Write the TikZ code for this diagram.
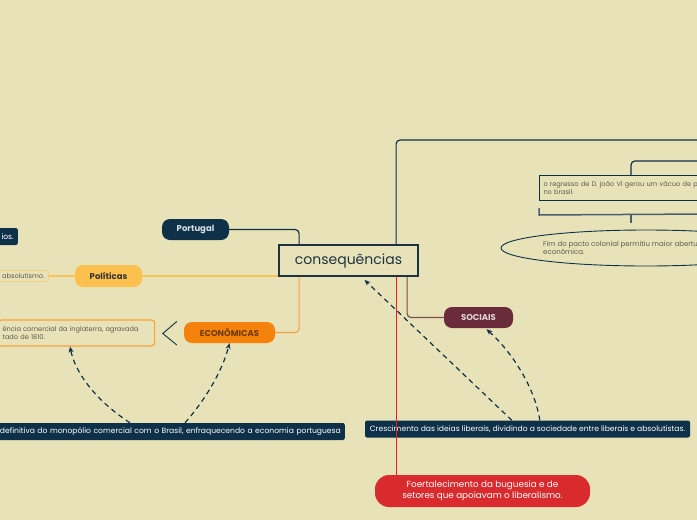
\documentclass[tikz,border=0pt]{standalone}
\usepackage{fontspec}
\setmainfont{Poppins}
\usetikzlibrary{positioning, calc, shapes.geometric, arrows.meta}

\definecolor{bg}{HTML}{E8E2B8}
\definecolor{navy}{HTML}{0E3149}
\definecolor{conborder}{HTML}{1C3442}
\definecolor{yellowfill}{HTML}{FCC04F}
\definecolor{yellowline}{HTML}{FCC458}
\definecolor{orangefill}{HTML}{F5820B}
\definecolor{orangeline}{HTML}{F7A33A}
\definecolor{maroonfill}{HTML}{6A2B3B}
\definecolor{maroonline}{HTML}{7D4E4E}
\definecolor{redfill}{HTML}{D92B2E}
\definecolor{redline}{HTML}{E8201F}
\definecolor{graytext}{HTML}{5E5A4E}
\definecolor{slate}{HTML}{4A6070}

\begin{document}
\begin{tikzpicture}[
    x=1pt, y=-1pt,
    pill/.style={
        rectangle,
        rounded corners=8pt,
        minimum height=21pt,
        inner sep=0pt,
        font=\fontsize{8.5}{10}\selectfont\bfseries
    },
    darkbox/.style={
        rectangle,
        rounded corners=2pt,
        fill=navy,
        text=white,
        inner xsep=4pt,
        inner ysep=0pt,
        minimum height=17pt,
        font=\fontsize{7.6}{9}\selectfont
    },
    note/.style={
        font=\fontsize{6.6}{8}\selectfont,
        text=graytext,
        align=left,
        inner xsep=4pt,
        inner ysep=3pt
    },
    link/.style={
        line width=1.2pt,
        rounded corners=4pt
    },
    dasharrow/.style={
        -{Stealth[length=6pt, width=5pt]},
        dash pattern=on 5pt off 4pt,
        line width=1.2pt,
        navy
    }
]

\useasboundingbox (0,0) rectangle (697,520);
\clip (0,0) rectangle (697,520);
\fill[bg] (0,0) rectangle (697,520);

% central topic
\node[draw=conborder, line width=1.8pt, fill=bg, minimum width=139pt, minimum height=31pt,
      inner sep=0pt, font=\fontsize{14}{16}\selectfont, text=conborder] (cons) at (348.5,260.5) {consequências};

% main branches
\node[pill, fill=navy, text=white!85!navy, minimum width=67pt] (portugal) at (195.5,229.5) {Portugal};
\node[pill, fill=yellowfill, text=black!80, minimum width=67pt, minimum height=22pt] (politicas) at (108.5,276) {Políticas};
\node[pill, fill=orangefill, text=black!55!orangefill, minimum width=91pt] (economicas) at (229.5,332.5) {ECONÔMICAS};
\node[pill, fill=maroonfill, text=white!80!maroonfill, minimum width=69pt] (sociais) at (478.5,317.5) {SOCIAIS};
\node[pill, fill=redfill, text=white, minimum width=215pt, minimum height=32pt, rounded corners=14pt,
      align=center, font=\fontsize{8.8}{11.5}\selectfont] (foert) at (482.5,491)
    {Foertalecimento da buguesia e de\\setores que apoiavam o liberalismo.};

% dark notes
\node[darkbox, minimum width=325pt] (crescimento) at (527.5,429)
    {Crescimento das ideias liberais, dividindo a sociedade entre liberais e absolutistas.};
\node[darkbox, anchor=east, text width=352pt, align=right] (monopolio) at (345,431.5)
    {definitiva do monopólio comercial com o Brasil, enfraquecendo a economia portuguesa};
\node[darkbox, anchor=east, text width=40pt, align=right] (ios) at (18,236.5) {ios.};

% light notes
\node[note, draw=yellowline!60!bg, line width=1pt, rounded corners=2pt, anchor=east,
      text width=60pt, align=right, inner ysep=3pt] (absol) at (49,276) {absolutismo.};
\node[note, draw=orangeline, line width=1.2pt, rounded corners=3pt, anchor=west,
      text width=148pt, minimum height=26pt] (inglaterra) at (-2,333)
    {ência comercial da inglaterra, agravada\\tado de 1810.};
\node[note, draw=navy, line width=1pt, anchor=north west, text width=200pt, minimum height=25pt] (regresso) at (539,175)
    {o regresso de D. joão VI gerou um vácuo de poder\\no brasil.};
\node[ellipse, draw=navy, line width=0.9pt, minimum width=290pt, minimum height=36pt] (fim-ell) at (646,248) {};
\node[note, anchor=west, font=\fontsize{7}{8.5}\selectfont] (fim) at (539,248)
    {Fim do pacto colonial permitiu maior abertura\\econômica.};

% branch connectors
\coordinate (cons-port) at ($(cons.north west)+(21,0)$);
\coordinate (cons-top) at ($(cons.north west)+(118,0)$);
\coordinate (cons-econ) at ($(cons.south west)+(21,0)$);
\coordinate (cons-red) at ($(cons.south west)+(118,0)$);
\coordinate (cons-soc) at ($(cons.south west)+(129,0)$);
\coordinate (top-end) at (705,140);
\coordinate (regresso-top) at ($(regresso.north west)+(92,0)$);
\coordinate (regresso-end) at (705,161);

\draw[link, navy] (portugal.east) -| (cons-port);
\draw[link, navy] (cons-top) |- (top-end);
\draw[link, navy] (regresso-top) |- (regresso-end);
\draw[link, yellowline] (politicas.east) -- (politicas.east -| cons.west);
\draw[link, yellowline] (politicas.west) -- (absol.east);
\draw[link, orangeline] (cons-econ) |- (economicas.east);
\draw[link, maroonline] (cons-soc) |- (sociais.west);
\draw[redline, line width=1.2pt] (cons-red) -- (cons-red |- foert.north);

% collapse marker and bracket
\draw[navy, line width=0.9pt] ($(economicas.west)+(-7,-11)$) -- ($(economicas.west)+(-21,1)$) -- ($(economicas.west)+(-7,12.5)$);
\draw[slate, line width=1.5pt] ($(regresso.south west)+(0,7)$) -- ($(regresso.south west)+(0,14)$) -- (705,214);
\draw[slate, line width=1.2pt] ($(regresso.south west)+(92,14)$) -- ($(regresso.south west)+(92,22)$);

% dashed relations
\draw[dasharrow] ($(monopolio.north east)+(-215,0)$) .. controls (95,400) and (75,372) .. ($(inglaterra.south west)+(72,0)$);
\draw[dasharrow] ($(monopolio.north east)+(-160,0)$) .. controls (205,400) and (222,372) .. (economicas.south);
\draw[dasharrow] ($(crescimento.north west)+(147,0)$) -- ($(cons.south)+(16,3)$);
\draw[dasharrow] ($(crescimento.north west)+(175,0)$) .. controls (535,388) and (512,352) .. ($(sociais.south)+(8,1)$);

\end{tikzpicture}
\end{document}
